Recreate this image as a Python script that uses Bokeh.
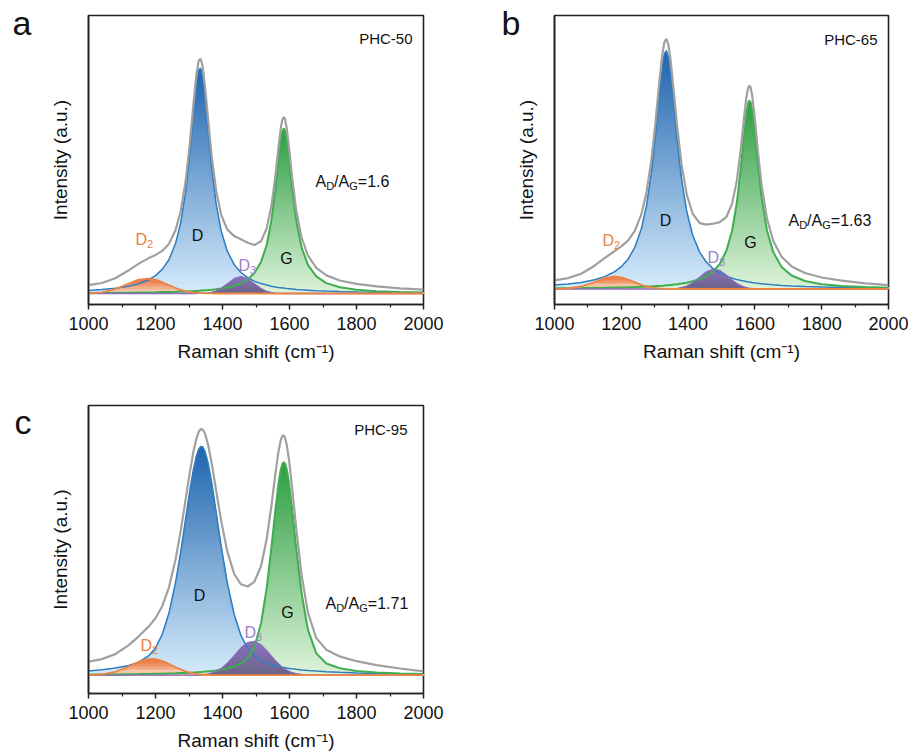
import numpy as np
from bokeh.plotting import figure
from bokeh.layouts import column, row
from bokeh.models import Label, Range1d, FixedTicker, LinearAxis
from bokeh.embed import file_html
from bokeh.resources import INLINE

# ---------------- data ----------------
# Raman shift (cm-1) sample positions
X = [1000, 1040, 1080, 1120, 1150, 1180, 1200, 1220, 1240, 1260, 1275, 1290, 1302, 1313, 1322, 1329, 1335, 1341, 1348, 1357, 1368, 1381, 1396, 1414, 1435, 1455, 1475, 1495, 1515, 1532, 1546, 1558, 1567, 1574, 1579, 1583, 1587, 1592, 1599, 1608, 1620, 1636, 1655, 1680, 1710, 1750, 1800, 1860, 1930, 2000]
X_TICKS = [1000, 1200, 1400, 1600, 1800, 2000]
X_MINOR = [1100, 1300, 1500, 1700, 1900]

PANEL_LETTERS = ["a", "b", "c"]
SAMPLES = ["PHC-50", "PHC-65", "PHC-95"]
RATIOS = ["1.6", "1.63", "1.71"]
BASELINE = [11.0, 15.5, 18.3]

# PHC-50 (intensity, a.u.)
D_a = [14.1, 14.9, 16.2, 18.3, 20.8, 24.8, 28.9, 35.1, 44.8, 61.2, 81.4, 113.0, 149.5, 189.9, 220.3, 234.6, 236.4,
       227.9, 207.9, 174.9, 136.2, 100.9, 73.6, 53.5, 39.8, 32.0, 26.9, 23.4, 20.9, 19.4, 18.3, 17.6, 17.1, 16.8,
       16.5, 16.4, 16.2, 16.0, 15.8, 15.5, 15.1, 14.7, 14.3, 13.8, 13.4, 13.0, 12.6, 12.2, 12.0, 11.8]
G_a = [11.5, 11.6, 11.7, 11.8, 12.0, 12.1, 12.2, 12.4, 12.5, 12.7, 12.9, 13.1, 13.2, 13.4, 13.6, 13.7, 13.9,
       14.0, 14.2, 14.4, 14.8, 15.3, 16.0, 17.1, 18.8, 21.3, 25.1, 31.3, 42.5, 59.7, 84.1, 115.8, 144.6, 164.6,
       173.6, 176.0, 173.6, 164.6, 144.6, 115.8, 84.1, 57.1, 39.6, 28.1, 21.4, 17.2, 14.7, 13.3, 12.5, 12.0]
D2_a = [11.2, 12.2, 15.3, 20.9, 24.8, 25.9, 24.8, 22.3, 19.3, 16.5, 14.7, 13.4, 12.6, 12.1, 11.7, 11.6, 11.4,
        11.3, 11.2, 11.2, 11.1, 11.0, 11.0, 11.0, 11.0, 11.0, 11.0, 11.0, 11.0, 11.0, 11.0, 11.0, 11.0, 11.0,
        11.0, 11.0, 11.0, 11.0, 11.0, 11.0, 11.0, 11.0, 11.0, 11.0, 11.0, 11.0, 11.0, 11.0, 11.0, 11.0]
D3_a = [11.0, 11.0, 11.0, 11.0, 11.0, 11.0, 11.0, 11.0, 11.0, 11.0, 11.0, 11.0, 11.0, 11.0, 11.0, 11.1, 11.1,
        11.2, 11.3, 11.6, 12.2, 13.6, 16.1, 20.5, 25.8, 28.0, 25.8, 20.8, 15.9, 13.2, 12.0, 11.4, 11.2, 11.1,
        11.1, 11.1, 11.0, 11.0, 11.0, 11.0, 11.0, 11.0, 11.0, 11.0, 11.0, 11.0, 11.0, 11.0, 11.0, 11.0]
ENV_a = [19.3, 21.5, 26.2, 34.2, 40.9, 46.4, 49.6, 53.6, 60.6, 74.4, 93.0, 123.5, 159.3, 199.5, 229.7, 244.0, 245.8,
         237.4, 217.6, 185.1, 147.3, 113.8, 89.7, 75.1, 68.4, 65.2, 61.7, 59.5, 63.3, 76.2, 98.4, 128.9, 156.9, 176.5,
         185.2, 187.4, 184.9, 175.6, 155.4, 126.3, 94.2, 66.8, 48.9, 36.6, 29.1, 24.0, 20.6, 18.1, 16.2, 14.8]

# PHC-65
D_b = [19.4, 20.5, 22.1, 24.8, 27.9, 32.7, 37.8, 45.2, 56.8, 75.7, 98.2, 132.0, 169.0, 208.1, 236.8, 250.8, 253.9,
       247.8, 231.1, 200.9, 162.3, 124.2, 93.0, 69.0, 52.1, 42.2, 35.8, 31.4, 28.2, 26.2, 24.9, 24.0, 23.4, 22.9,
       22.6, 22.4, 22.2, 21.9, 21.6, 21.2, 20.8, 20.2, 19.7, 19.1, 18.6, 18.0, 17.5, 17.1, 16.7, 16.5]
G_b = [16.2, 16.3, 16.4, 16.6, 16.7, 16.9, 17.1, 17.2, 17.4, 17.7, 17.9, 18.1, 18.4, 18.6, 18.8, 19.0, 19.2,
       19.3, 19.6, 19.9, 20.3, 20.9, 21.8, 23.2, 25.4, 28.4, 33.1, 40.7, 54.1, 74.3, 102.0, 137.0, 168.0, 189.8,
       200.2, 203.8, 202.6, 194.6, 174.8, 143.7, 107.1, 74.3, 52.4, 37.6, 29.0, 23.5, 20.3, 18.5, 17.4, 16.8]
D2_b = [15.6, 16.0, 18.0, 22.5, 26.4, 28.0, 27.1, 25.0, 22.3, 19.7, 18.2, 17.1, 16.5, 16.1, 15.9, 15.8, 15.7,
        15.7, 15.6, 15.6, 15.5, 15.5, 15.5, 15.5, 15.5, 15.5, 15.5, 15.5, 15.5, 15.5, 15.5, 15.5, 15.5, 15.5,
        15.5, 15.5, 15.5, 15.5, 15.5, 15.5, 15.5, 15.5, 15.5, 15.5, 15.5, 15.5, 15.5, 15.5, 15.5, 15.5]
D3_b = [15.5, 15.5, 15.5, 15.5, 15.5, 15.5, 15.5, 15.5, 15.5, 15.5, 15.5, 15.5, 15.5, 15.5, 15.5, 15.5, 15.6,
        15.6, 15.7, 15.8, 16.1, 16.9, 18.5, 21.8, 27.3, 32.7, 35.4, 33.9, 29.1, 24.3, 20.9, 18.8, 17.6, 17.0,
        16.6, 16.4, 16.2, 16.0, 15.8, 15.7, 15.6, 15.5, 15.5, 15.5, 15.5, 15.5, 15.5, 15.5, 15.5, 15.5]
ENV_b = [24.1, 26.4, 30.8, 38.8, 46.3, 53.5, 58.1, 63.9, 73.3, 90.1, 111.3, 144.2, 180.8, 219.7, 248.3, 262.4, 265.6,
         259.7, 243.2, 213.4, 175.5, 138.7, 109.9, 90.5, 81.3, 79.9, 80.8, 82.4, 87.7, 101.1, 124.1, 155.9, 185.2, 205.8,
         215.6, 218.8, 217.2, 208.7, 188.3, 156.7, 119.5, 86.1, 63.5, 47.8, 38.1, 31.5, 27.0, 23.8, 21.2, 19.3]

# PHC-95
D_c = [22.5, 23.7, 25.4, 28.1, 31.4, 37.8, 45.6, 58.9, 80.2, 111.4, 141.2, 174.8, 201.9, 223.9, 237.6, 244.5, 247.1,
       246.6, 242.0, 230.6, 210.4, 181.7, 147.7, 111.4, 78.9, 58.1, 45.1, 37.5, 32.9, 30.3, 28.8, 27.7, 27.0, 26.6,
       26.2, 26.0, 25.8, 25.5, 25.1, 24.7, 24.2, 23.6, 23.0, 22.4, 21.8, 21.2, 20.6, 20.1, 19.7, 19.4]
G_c = [18.9, 19.0, 19.1, 19.3, 19.4, 19.6, 19.7, 19.8, 20.0, 20.2, 20.4, 20.6, 20.8, 21.1, 21.2, 21.4, 21.6,
       21.7, 21.9, 22.2, 22.6, 23.1, 23.9, 25.1, 27.0, 29.9, 35.1, 46.3, 70.1, 105.7, 145.9, 184.0, 209.5, 224.0,
       229.8, 231.3, 229.8, 224.0, 209.5, 184.0, 145.9, 100.7, 63.9, 40.1, 30.0, 25.2, 22.5, 20.9, 20.0, 19.5]
D2_c = [18.4, 19.1, 21.6, 27.0, 31.8, 34.7, 34.5, 32.6, 29.6, 26.3, 24.1, 22.2, 21.0, 20.2, 19.7, 19.3, 19.1,
        18.9, 18.8, 18.6, 18.5, 18.4, 18.3, 18.3, 18.3, 18.3, 18.3, 18.3, 18.3, 18.3, 18.3, 18.3, 18.3, 18.3,
        18.3, 18.3, 18.3, 18.3, 18.3, 18.3, 18.3, 18.3, 18.3, 18.3, 18.3, 18.3, 18.3, 18.3, 18.3, 18.3]
D3_c = [18.3, 18.3, 18.3, 18.3, 18.3, 18.3, 18.3, 18.3, 18.3, 18.3, 18.3, 18.3, 18.3, 18.4, 18.5, 18.6, 18.7,
        18.9, 19.1, 19.6, 20.5, 22.1, 24.9, 30.0, 37.7, 45.4, 50.9, 52.1, 48.6, 42.8, 37.3, 32.8, 29.7, 27.5,
        26.2, 25.2, 24.3, 23.3, 22.1, 20.9, 19.8, 19.0, 18.5, 18.3, 18.3, 18.3, 18.3, 18.3, 18.3, 18.3]
ENV_c = [31.8, 34.4, 39.4, 48.4, 57.2, 67.1, 75.3, 87.2, 106.0, 134.3, 162.1, 194.0, 220.1, 241.5, 255.0, 261.7, 264.4,
         264.0, 259.7, 248.8, 229.7, 203.1, 172.6, 142.4, 119.5, 109.2, 107.0, 111.7, 127.3, 154.6, 187.7, 220.1, 241.8, 253.6,
         257.8, 258.0, 255.4, 248.3, 232.3, 205.1, 165.4, 118.7, 80.7, 55.4, 43.7, 37.1, 32.3, 28.4, 25.0, 22.1]

# ---------------- styling / drawing ----------------
FONT = "Liberation Sans"
INK = "#111111"

def hex2rgb(h):
    h = h.lstrip('#'); return tuple(int(h[i:i + 2], 16) for i in (0, 2, 4))

def mix(c1, c2, t):
    a, b = hex2rgb(c1), hex2rgb(c2)
    return "#%02x%02x%02x" % tuple(int(round(a[i] + (b[i] - a[i]) * t)) for i in range(3))

def gradient_fill(p, ys, base, c_bot, c_top, step=4):
    # vertical gradient: paint from the top band downwards, each band covering the one above
    ys = np.asarray(ys, float); top = ys.max()
    levels = [base] + list(np.arange(np.ceil(base / step) * step + step, top, step)) + [top]
    for i in reversed(range(len(levels) - 1)):
        lo, hi = levels[i], levels[i + 1]
        t = ((lo + hi) / 2 - base) / (top - base)
        p.varea(x=X, y1=np.full(len(X), base), y2=np.minimum(ys, hi), fill_color=mix(c_bot, c_top, t))

def make_panel(D, G, D2, D3, ENV, base, w, h, bl, br, bt, bb, ymax, letter, letter_y, letter_standoff):
    p = figure(width=w, height=h, x_range=Range1d(1000, 2000), y_range=Range1d(0, ymax),
               output_backend="svg", toolbar_location=None,
               min_border_left=bl, min_border_right=br, min_border_top=bt, min_border_bottom=bb)
    p.grid.visible = False
    p.outline_line_color = "#222222"; p.outline_line_width = 1.6
    p.background_fill_color = "white"; p.border_fill_color = "white"
    xa = p.xaxis[0]
    xa.ticker = FixedTicker(ticks=X_TICKS, minor_ticks=X_MINOR)
    xa.major_tick_in = 0; xa.major_tick_out = 5; xa.minor_tick_in = 0; xa.minor_tick_out = 3
    xa.major_tick_line_width = 1.5; xa.minor_tick_line_width = 1.2
    xa.axis_line_width = 1.6; xa.axis_line_color = "#222222"
    xa.major_tick_line_color = "#222222"; xa.minor_tick_line_color = "#222222"
    xa.major_label_text_font = FONT; xa.major_label_text_font_size = "18px"; xa.major_label_text_color = INK
    xa.major_label_standoff = 7
    xa.axis_label = "Raman shift (cm\u207b\u00b9)"
    xa.axis_label_text_font = FONT; xa.axis_label_text_font_size = "19px"; xa.axis_label_text_font_style = "normal"
    xa.axis_label_text_color = INK; xa.axis_label_standoff = 8
    ya = p.yaxis[0]
    ya.ticker = FixedTicker(ticks=[])
    ya.major_tick_out = 0; ya.major_tick_in = 0; ya.minor_tick_out = 0; ya.minor_tick_in = 0
    ya.major_label_standoff = 0
    ya.axis_line_width = 1.6; ya.axis_line_color = "#222222"
    ya.axis_label = "Intensity (a.u.)"
    ya.axis_label_text_font = FONT; ya.axis_label_text_font_size = "19px"; ya.axis_label_text_font_style = "normal"
    ya.axis_label_text_color = INK; ya.axis_label_standoff = 18

    # panel letter, drawn as the single tick label of an extra, invisible left axis
    la = LinearAxis(ticker=FixedTicker(ticks=[letter_y]), major_label_overrides={letter_y: letter},
                    axis_line_color=None, major_tick_line_color=None, minor_tick_line_color=None,
                    major_tick_out=0, major_tick_in=0, minor_tick_out=0, minor_tick_in=0,
                    major_label_standoff=letter_standoff, major_label_text_font=FONT,
                    major_label_text_font_size="34px", major_label_text_color=INK)
    p.add_layout(la, "left")

    gradient_fill(p, D, base, "#d5ebfb", "#1e64ae")
    gradient_fill(p, G, base, "#ddf3da", "#2c9d40")
    gradient_fill(p, D3, base, "#6a6486", "#8d70c0", step=3)
    gradient_fill(p, D2, base, "#f9d9c4", "#ea6a30", step=3)
    p.line(X, D, line_color="#2f7fc0", line_width=1.5)
    p.line(X, G, line_color="#3fae4f", line_width=2)
    p.line(X, D3, line_color="#8a6cbc", line_width=1.3)
    p.line(X, D2, line_color="#ec8444", line_width=1.8)
    p.line(X, ENV, line_color="#a0a0a0", line_width=2.2)
    return p

def add_text(p, fr, px, py, text, size, color=INK, align="left", dx=0, dy=0):
    fl, fw, fb = fr
    p.add_layout(Label(x=1000 + (px - fl) / fw * 1000, y=fb - py, text=text, text_font=FONT,
                       text_font_size=f"{size}px", text_color=color, text_align=align,
                       text_baseline="alphabetic", x_offset=dx, y_offset=dy))

def ratio(p, fr, px, py, val):
    add_text(p, fr, px, py, "A", 16)
    add_text(p, fr, px, py, "D", 11, dx=10.7, dy=-4)
    add_text(p, fr, px, py, "/A", 16, dx=18.6)
    add_text(p, fr, px, py, "G", 11, dx=33.7, dy=-4)
    add_text(p, fr, px, py, "=" + val, 16, dx=42.3)

def sub_label(p, fr, px, py, main, sub, color):
    add_text(p, fr, px, py, main, 16, color)
    add_text(p, fr, px, py, sub, 11, color, dx=11.5, dy=-4)

ORANGE_T = "#e8823e"
PURPLE_T = "#9c82c8"

pa = make_panel(D_a, G_a, D2_a, D3_a, ENV_a, BASELINE[0], 460, 376, 88, 37, 15, 72, 289, PANEL_LETTERS[0], 282, 15)
fa = (88, 335, 304)
add_text(pa, fa, 412, 38, SAMPLES[0], 15, align="right")
add_text(pa, fa, 197, 235, "D", 16, align="center")
add_text(pa, fa, 286, 258, "G", 16, align="center")
sub_label(pa, fa, 135, 239, "D", "2", ORANGE_T)
sub_label(pa, fa, 238, 265, "D", "3", PURPLE_T)
ratio(pa, fa, 315, 181, RATIOS[0])

pb = make_panel(D_b, G_b, D2_b, D3_b, ENV_b, BASELINE[1], 450, 376, 94, 22, 15, 72, 289, PANEL_LETTERS[1], 282, -8)
fb_ = (554, 334, 304)
add_text(pb, fb_, 877, 39, SAMPLES[1], 15, align="right")
add_text(pb, fb_, 665, 220, "D", 16, align="center")
add_text(pb, fb_, 750, 242, "G", 16, align="center")
sub_label(pb, fb_, 602, 240, "D", "2", ORANGE_T)
sub_label(pb, fb_, 707, 257, "D", "3", PURPLE_T)
ratio(pb, fb_, 788, 220, RATIOS[1])

pc = make_panel(D_c, G_c, D2_c, D3_c, ENV_c, BASELINE[2], 460, 377, 88, 37, 29, 60, 288, PANEL_LETTERS[2], 272, 15)
fc = (88, 335, 693)
add_text(pc, fc, 407, 429, SAMPLES[2], 15, align="right")
add_text(pc, fc, 199, 595, "D", 16, align="center")
add_text(pc, fc, 287, 612, "G", 16, align="center")
sub_label(pc, fc, 140, 645, "D", "2", ORANGE_T)
sub_label(pc, fc, 244, 632, "D", "3", PURPLE_T)
ratio(pc, fc, 325, 603, RATIOS[2])

layout = column(row(pa, pb), pc)
open("out.html", "w").write(file_html(layout, INLINE))
